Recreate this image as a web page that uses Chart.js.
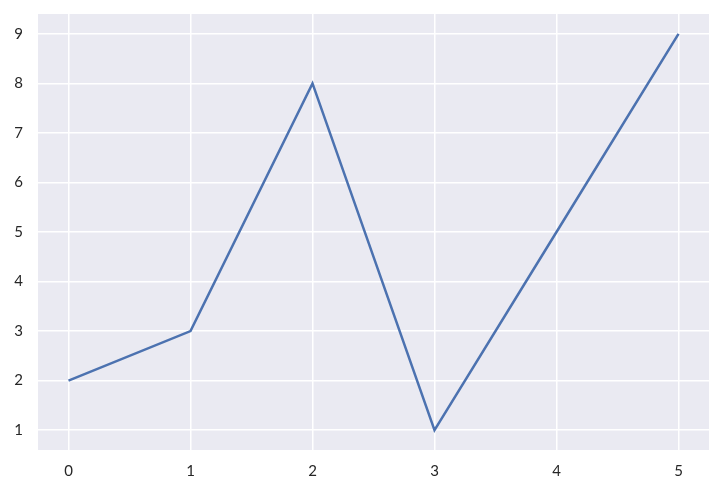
<!DOCTYPE html>
<html>
<head>
<meta charset="utf-8">
<script src="https://cdn.jsdelivr.net/npm/chart.js@4/dist/chart.umd.min.js"></script>
<style>
  html, body { margin: 0; padding: 0; background: #fff; }
  #wrap { width: 722px; height: 492px; }
</style>
</head>
<body>
<div id="wrap"><canvas id="c"></canvas></div>
<script>
// data
const xVals = [0, 1, 2, 3, 4, 5];
const yVals = [2, 3, 8, 1, 5, 9];
const xTicks = [0, 1, 2, 3, 4, 5];
const yTicks = [1, 2, 3, 4, 5, 6, 7, 8, 9];

const points = xVals.map((x, i) => ({ x: x, y: yVals[i] }));

// seaborn darkgrid background
const plotBg = {
    id: 'plotBg',
    beforeDraw: (chart) => {
        const a = chart.chartArea;
        const ctx = chart.ctx;
        ctx.save();
        ctx.fillStyle = '#EAEAF2';
        ctx.fillRect(a.left, a.top, a.right - a.left, a.bottom - a.top);
        ctx.restore();
    }
};

const tickFont = { family: 'Lato, "Open Sans", sans-serif', size: 15 };

new Chart(document.getElementById('c'), {
    type: 'line',
    data: {
        datasets: [{
            data: points,
            borderColor: '#4C72B0',
            borderWidth: 2.5,
            pointRadius: 0,
            tension: 0,
            fill: false
        }]
    },
    options: {
        responsive: true,
        maintainAspectRatio: false,
        animation: false,
        layout: { padding: { top: 14, right: 13, left: 0, bottom: 0 } },
        plugins: { legend: { display: false }, tooltip: { enabled: false } },
        scales: {
            x: {
                type: 'linear',
                min: -0.25,
                max: 5.25,
                afterBuildTicks: (s) => { s.ticks = xTicks.map(v => ({ value: v })); },
                afterFit: (s) => { s.height = 42; s.paddingLeft = 0; s.paddingRight = 0; },
                border: { display: false },
                grid: { color: '#ffffff', lineWidth: 1.5, drawTicks: false },
                ticks: { color: '#262626', font: tickFont, padding: 12 }
            },
            y: {
                type: 'linear',
                min: 0.6,
                max: 9.4,
                afterBuildTicks: (s) => { s.ticks = yTicks.map(v => ({ value: v })); },
                afterFit: (s) => { s.width = 38; s.paddingTop = 0; s.paddingBottom = 0; },
                border: { display: false },
                grid: { color: '#ffffff', lineWidth: 1.5, drawTicks: false },
                ticks: { color: '#262626', font: tickFont, padding: 15 }
            }
        }
    },
    plugins: [plotBg]
});
</script>
</body>
</html>
